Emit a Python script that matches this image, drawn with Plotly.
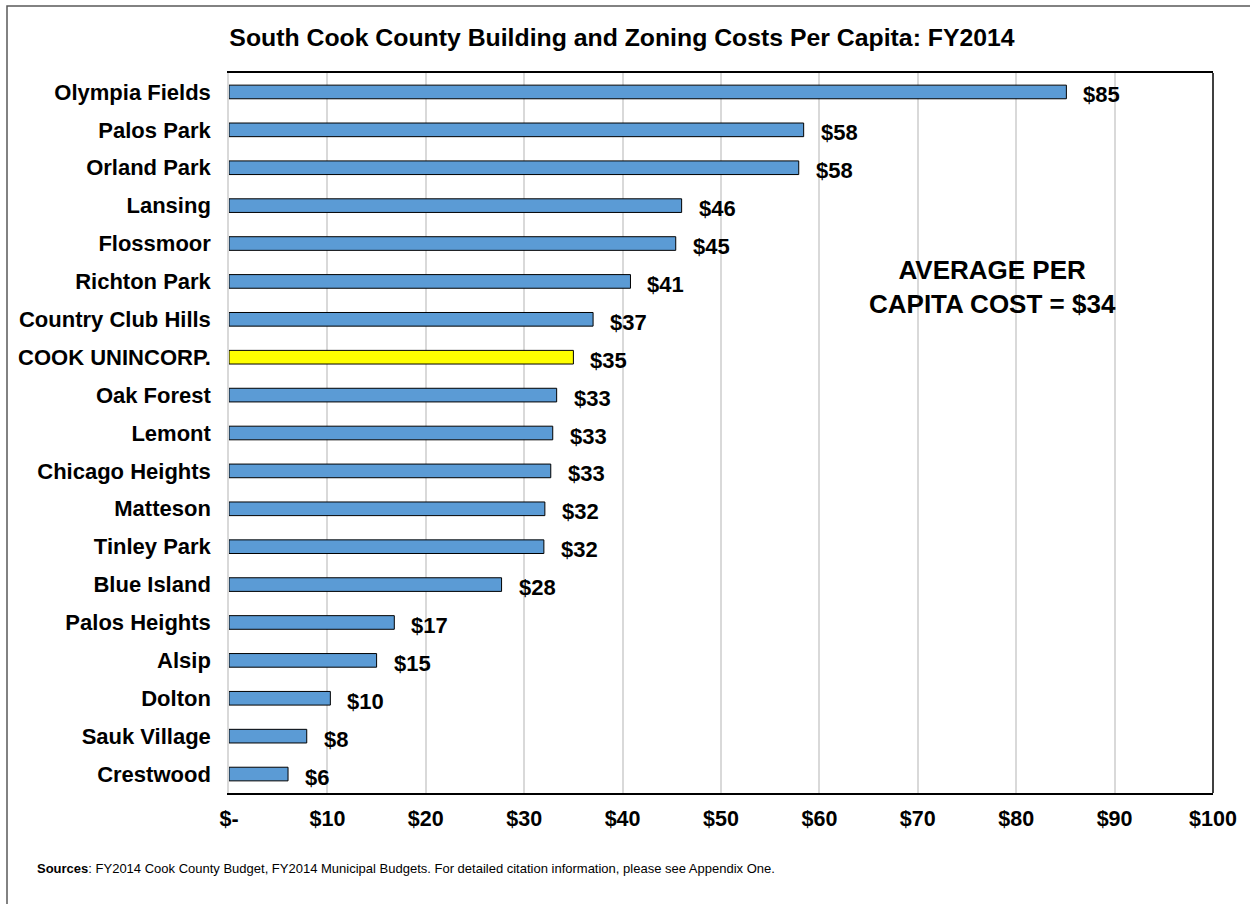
import plotly.graph_objects as go

# Building and zoning cost per capita, FY2014
municipalities = [
    "Olympia Fields", "Palos Park", "Orland Park", "Lansing", "Flossmoor",
    "Richton Park", "Country Club Hills", "COOK UNINCORP.", "Oak Forest",
    "Lemont", "Chicago Heights", "Matteson", "Tinley Park", "Blue Island",
    "Palos Heights", "Alsip", "Dolton", "Sauk Village", "Crestwood",
]
cost_per_capita = [
    85.1, 58.4, 57.9, 46.0, 45.4,
    40.8, 37.0, 35.0, 33.3,
    32.9, 32.7, 32.1, 32.0, 27.7,
    16.8, 15.0, 10.3, 7.9, 6.0,
]
highlight = "COOK UNINCORP."
average_cost = 34

tick_values = [0, 10, 20, 30, 40, 50, 60, 70, 80, 90, 100]
tick_labels = ["$-", "$10", "$20", "$30", "$40", "$50", "$60", "$70", "$80", "$90", "$100"]

FONT = "Liberation Sans, Arial, sans-serif"
BLUE = "#5B9BD5"
YELLOW = "#FFFF00"

W, H = 1250, 904
L, R, T, B = 229, 37, 73, 111
plot_w = W - L - R
plot_h = H - T - B


def px_x(px):
    return (px - L) / plot_w


def px_y(py):
    return 1 - (py - T) / plot_h


bar_colors = [YELLOW if m == highlight else BLUE for m in municipalities]

fig = go.Figure(
    go.Bar(
        x=cost_per_capita,
        y=municipalities,
        orientation="h",
        marker=dict(color=bar_colors, line=dict(color="#000000", width=1)),
        hoverinfo="x+y",
    )
)

# value labels at the end of each bar
for m, v in zip(municipalities, cost_per_capita):
    fig.add_annotation(
        x=v, y=m, xref="x", yref="y",
        text=f"${round(v):d}",
        showarrow=False, xanchor="left", yanchor="middle",
        xshift=15, yshift=-3,
        font=dict(family=FONT, size=22, color="#000000", weight="bold"),
    )

# average callout
fig.add_annotation(
    x=px_x(992), y=px_y(287), xref="paper", yref="paper",
    text=f"AVERAGE PER<br>CAPITA COST = ${average_cost}",
    showarrow=False, xanchor="center", yanchor="middle",
    font=dict(family=FONT, size=26, color="#000000", weight="bold"),
)

# source note
fig.add_annotation(
    x=px_x(35), y=px_y(868), xref="paper", yref="paper",
    text="<b>Sources</b>: FY2014 Cook County Budget, FY2014 Municipal Budgets. "
         "For detailed citation information, please see Appendix One.",
    showarrow=False, xanchor="left", yanchor="middle",
    font=dict(family="Liberation Sans Narrow, Arial Narrow, Liberation Sans, sans-serif",
              size=13, color="#000000"),
)

# outer chart frame (top and left edges visible)
fig.add_shape(
    type="rect", xref="paper", yref="paper",
    x0=px_x(7), y0=px_y(920), x1=px_x(1270), y1=px_y(6),
    line=dict(color="#595959", width=1.5), layer="below",
)
# right edge of plot area
fig.add_shape(
    type="line", xref="paper", yref="paper",
    x0=1, x1=1, y0=0, y1=1,
    line=dict(color="#000000", width=1.5),
)

fig.update_layout(
    width=W, height=H,
    margin=dict(l=L, r=R, t=T, b=B),
    paper_bgcolor="white", plot_bgcolor="white",
    showlegend=False,
    bargap=0.64,
    title=dict(
        text="South Cook County Building and Zoning Costs Per Capita: FY2014",
        x=622 / W, xanchor="center",
        y=1 - 37 / H, yanchor="middle",
        font=dict(family=FONT, size=24.8, color="#000000", weight="bold"),
    ),
    xaxis=dict(
        range=[0, 100],
        tickvals=tick_values, ticktext=tick_labels,
        showgrid=True, gridcolor="#D9D9D9", gridwidth=1.5,
        showline=True, linecolor="#000000", linewidth=1.5, mirror=True,
        ticks="", zeroline=False,
        tickfont=dict(family=FONT, size=21.5, color="#000000", weight="bold"),
        ticklabelstandoff=5,
    ),
    yaxis=dict(
        autorange="reversed",
        showgrid=False, showline=True, linecolor="#D9D9D9", linewidth=1.5,
        ticks="", ticklabelstandoff=12,
        tickfont=dict(family=FONT, size=22, color="#000000", weight="bold"),
    ),
)

fig.write_html("out.html")
